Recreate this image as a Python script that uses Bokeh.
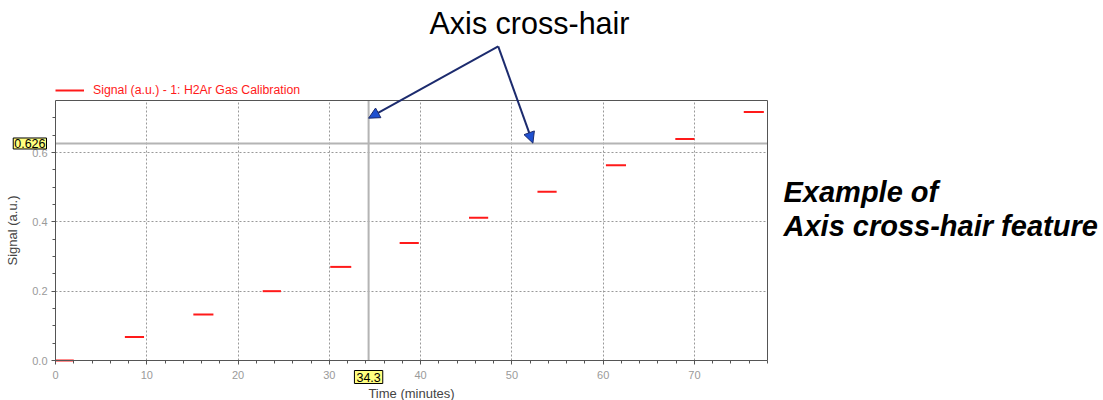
from bokeh.plotting import figure
from bokeh.models import (Range1d, SingleIntervalTicker, FixedTicker, LinearAxis, Grid,
                          Label, Arrow, NormalHead, ColumnDataSource, Legend, LegendItem,
                          PrintfTickFormatter)
from bokeh.embed import file_html
from bokeh.resources import INLINE

# ---- data ----
seg_start = [0.0, 7.6, 15.1, 22.7, 30.1, 37.7, 45.3, 52.8, 60.3, 67.9, 75.4]
seg_end = [2.0, 9.7, 17.3, 24.7, 32.4, 39.8, 47.4, 54.9, 62.5, 70.0, 77.6]
signal = [0.0, 0.068, 0.133, 0.200, 0.270, 0.339, 0.412, 0.487, 0.563, 0.639, 0.717]
series_name = "Signal (a.u.) - 1: H2Ar Gas Calibration"

x_ticks = [0, 10, 20, 30, 40, 50, 60, 70]
y_ticks = [0.0, 0.2, 0.4, 0.6]
x_label = "Time (minutes)"
y_label = "Signal (a.u.)"

cross_x = 34.3
cross_y = 0.626
cross_x_text = "34.3"
cross_y_text = "0.626"

title_text = "Axis cross-hair"
side_text = ["Example of", "Axis cross-hair feature"]

# arrow anchors (data coordinates): common start, two ends on the cross-hair
arrow_start = (48.5, 0.906)
arrow_ends = [(34.3, 0.699), (52.3, 0.627)]

# ---- plot box (data limits) and its place on the 1103x400 canvas ----
X_MIN, X_MAX = 0.0, 78.0
Y_MIN, Y_MAX = 0.0, 0.75
W, H = 1103, 400
BOX_L, BOX_R, BOX_T, BOX_B = 55, 767, 100, 360

xs = (BOX_R - BOX_L) / (X_MAX - X_MIN)
ys = (BOX_B - BOX_T) / (Y_MAX - Y_MIN)
x_range = Range1d(X_MIN - BOX_L / xs, X_MAX + (W - BOX_R) / xs)
y_range = Range1d(Y_MIN - (H - BOX_B) / ys, Y_MAX + BOX_T / ys)

FONT = "Liberation Sans"
AX = "#555555"

p = figure(width=W, height=H, output_backend="svg", toolbar_location=None,
           x_range=x_range, y_range=y_range, x_axis_location=None, y_axis_location=None,
           min_border=0)
p.min_border_left = p.min_border_right = p.min_border_top = p.min_border_bottom = 0
p.background_fill_color = "white"
p.border_fill_color = "white"
p.outline_line_color = None
p.xgrid.visible = False
p.ygrid.visible = False

# ---- grid ----
GRID_COLOR = "#999999"
GRID_DASH = "2 2"
if "cross_bounds" in Grid.properties():
    p.add_layout(Grid(dimension=0, ticker=SingleIntervalTicker(interval=10),
                      bounds=(X_MIN, X_MAX), cross_bounds=(Y_MIN, Y_MAX),
                      grid_line_color=GRID_COLOR, grid_line_dash=GRID_DASH))
    p.add_layout(Grid(dimension=1, ticker=SingleIntervalTicker(interval=0.2),
                      bounds=(Y_MIN, Y_MAX), cross_bounds=(X_MIN, X_MAX),
                      grid_line_color=GRID_COLOR, grid_line_dash=GRID_DASH))
else:
    p.segment(x0=x_ticks, y0=Y_MIN, x1=x_ticks, y1=Y_MAX, line_color=GRID_COLOR,
              line_dash=GRID_DASH, line_width=1)
    p.segment(x0=X_MIN, y0=y_ticks, x1=X_MAX, y1=y_ticks, line_color=GRID_COLOR,
              line_dash=GRID_DASH, line_width=1)

# ---- cross-hair ----
p.segment(x0=[cross_x], y0=Y_MIN, x1=[cross_x], y1=Y_MAX, line_color="#b4b4b4", line_width=2)
p.segment(x0=X_MIN, y0=[cross_y], x1=X_MAX, y1=[cross_y], line_color="#b4b4b4", line_width=2)

# ---- data ----
src = ColumnDataSource(dict(x0=seg_start, x1=seg_end, y=signal))
seg = p.segment(x0="x0", y0="y", x1="x1", y1="y", source=src, line_color="#ff1a1a",
                line_width=2)

# ---- axes ----
def style(ax):
    ax.axis_line_color = AX
    ax.major_tick_line_color = AX
    ax.minor_tick_line_color = AX
    ax.major_tick_in = 0
    ax.major_tick_out = 4
    ax.minor_tick_in = 0
    ax.minor_tick_out = 3
    ax.major_label_text_color = "#9a9a9a"
    ax.major_label_text_font = FONT
    ax.major_label_text_font_size = "11px"
    ax.axis_label_text_font = FONT
    ax.axis_label_text_font_size = "13px"
    ax.axis_label_text_font_style = "normal"
    ax.axis_label_text_color = "#444444"

xaxis = LinearAxis(fixed_location=Y_MIN, bounds=(X_MIN, X_MAX),
                   ticker=SingleIntervalTicker(interval=10, num_minor_ticks=5),
                   axis_label=x_label)
style(xaxis)
xaxis.major_label_standoff = 6
xaxis.axis_label_standoff = 4
p.add_layout(xaxis, "below")

yaxis = LinearAxis(fixed_location=X_MIN, bounds=(Y_MIN, Y_MAX),
                   ticker=SingleIntervalTicker(interval=0.2, num_minor_ticks=4),
                   formatter=PrintfTickFormatter(format="%.1f"), axis_label=y_label)
style(yaxis)
yaxis.major_label_standoff = 4
yaxis.axis_label_standoff = 9
p.add_layout(yaxis, "left")

# top and right edges of the plot box
top_edge = LinearAxis(fixed_location=Y_MAX, bounds=(X_MIN, X_MAX), ticker=FixedTicker(ticks=[]),
                      axis_line_color=AX, major_tick_line_color=None, minor_tick_line_color=None)
right_edge = LinearAxis(fixed_location=X_MAX, bounds=(Y_MIN, Y_MAX), ticker=FixedTicker(ticks=[]),
                        axis_line_color=AX, major_tick_line_color=None, minor_tick_line_color=None)
p.add_layout(top_edge, "above")
p.add_layout(right_edge, "right")

# ---- legend above the plot box ----
legend = Legend(items=[LegendItem(label=series_name, renderers=[seg])],
                location=(BOX_L, H - 97), glyph_width=29, glyph_height=12, label_height=12,
                label_standoff=9, padding=0, margin=0, spacing=0, border_line_color=None,
                background_fill_alpha=0, label_text_color="#ff1a1a", label_text_font=FONT,
                label_text_font_size="12.3px")
p.add_layout(legend)

# ---- cross-hair value boxes ----
p.add_layout(Label(x=BOX_L - 9, y=cross_y, x_units="screen", y_units="data", text=cross_y_text,
                   text_align="right", text_baseline="middle", text_font=FONT,
                   text_font_size="12.5px", text_color="black",
                   background_fill_color="#ffff80", border_line_color="black",
                   border_line_width=1, padding=1))
p.add_layout(Label(x=cross_x, y=H - 370, x_units="data", y_units="screen", text=cross_x_text,
                   text_align="center", text_baseline="top", text_font=FONT,
                   text_font_size="12.5px", text_color="black",
                   background_fill_color="#ffff80", border_line_color="black",
                   border_line_width=1, padding=2))

# ---- annotation ----
for ex, ey in arrow_ends:
    p.add_layout(Arrow(x_start=arrow_start[0], y_start=arrow_start[1], x_end=ex, y_end=ey,
                       line_color="#1c2b6e", line_width=2,
                       end=NormalHead(size=11, fill_color="#1f50d0", line_color="#1c2b6e",
                                      line_width=1)))

p.add_layout(Label(x=529, y=H - 22, x_units="screen", y_units="screen", text=title_text,
                   text_align="center", text_baseline="middle", text_font=FONT,
                   text_font_size="30.5px", text_color="black"))

for i, t in enumerate(side_text):
    p.add_layout(Label(x=783, y=H - 191 - 34 * i, x_units="screen", y_units="screen", text=t,
                       text_align="left", text_baseline="alphabetic", text_font=FONT,
                       text_font_size="29px", text_font_style="bold italic",
                       text_color="black"))

open("out.html", "w").write(file_html(p, INLINE))
